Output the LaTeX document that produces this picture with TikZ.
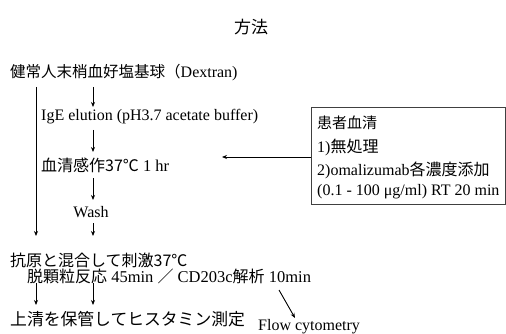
\documentclass[tikz,border=0pt]{standalone}
\usepackage{fontspec}
\setmainfont{Liberation Serif}
\newfontfamily\jp{Noto Sans CJK JP}
\usetikzlibrary{arrows.meta}
\newcommand\JJ[2]{{\jp\fontsize{#1}{#1}\selectfont #2}}
\newcommand\LL[2]{{\fontsize{#1}{#1}\selectfont #2}}
\begin{document}
\begin{tikzpicture}[x=1pt,y=-1pt,
  txt/.style={anchor=west,inner sep=0pt},
  arr/.style={-{Stealth[length=5pt,width=4pt]},line width=0.9pt},
  boxed/.style={draw=black!75,line width=0.8pt,inner sep=0pt}]
\useasboundingbox (0,0) rectangle (506,334);
\node[inner sep=0pt] (title) at (251,27) {\JJ{17}{方法}};
\node[txt] (l1) at (10,73) {\JJ{15.5}{健常人末梢血好塩基球（}\LL{16}{Dextran)}};
\node[txt] (l2) at (41,117) {\LL{16}{IgE elution (pH3.7 acetate buffer)}};
\node[txt] (l3) at (41,165) {\JJ{16}{血清感作37℃}\LL{16.5}{ 1 hr}};
\node[inner sep=0pt] (l4) at (91,212) {\LL{16}{Wash}};
\node[txt] (l5) at (10,260) {\JJ{16}{抗原と混合して刺激37℃}};
\node[txt] (l6) at (27,276) {\JJ{16}{脱顆粒反応}\LL{16.5}{ 45min }\JJ{16}{／}\LL{16.5}{ CD203c}\JJ{16}{解析}\LL{16.5}{ 10min}};
\node[txt] (l7) at (10,319) {\JJ{16.8}{上清を保管してヒスタミン測定}};
\node[txt] (fc) at (258,327) {\LL{16}{Flow cytometry}};
\draw[boxed] (311,107) rectangle (505,204);
\node[txt] (b1) at (317,123) {\JJ{15}{患者血清}};
\node[txt] (b2) at (317,147) {\LL{16}{1)}\JJ{16}{無処理}};
\node[txt] (b3) at (317,170) {\LL{16}{2)omalizumab}\JJ{16}{各濃度添加}};
\node[txt] (b4) at (317,192) {\LL{16}{(0.1 - 100 μg/ml) RT 20 min}};
\coordinate (a0s) at (36,87); \coordinate (a0e) at (36,236);
\coordinate (a1s) at (93,87); \coordinate (a1e) at (93,107);
\coordinate (a2s) at (93,130); \coordinate (a2e) at (93,152);
\coordinate (a3s) at (93,178); \coordinate (a3e) at (93,200);
\coordinate (a4s) at (93,223); \coordinate (a4e) at (93,236);
\coordinate (a5s) at (36,283); \coordinate (a5e) at (36,305);
\coordinate (a6s) at (93,283); \coordinate (a6e) at (93,305);
\coordinate (a7s) at (279,290); \coordinate (a7e) at (295,318);
\coordinate (a8s) at (311,157); \coordinate (a8e) at (222,157);
\foreach \i in {0,...,8} {\draw[arr] (a\i s) -- (a\i e);}
\end{tikzpicture}
\end{document}
